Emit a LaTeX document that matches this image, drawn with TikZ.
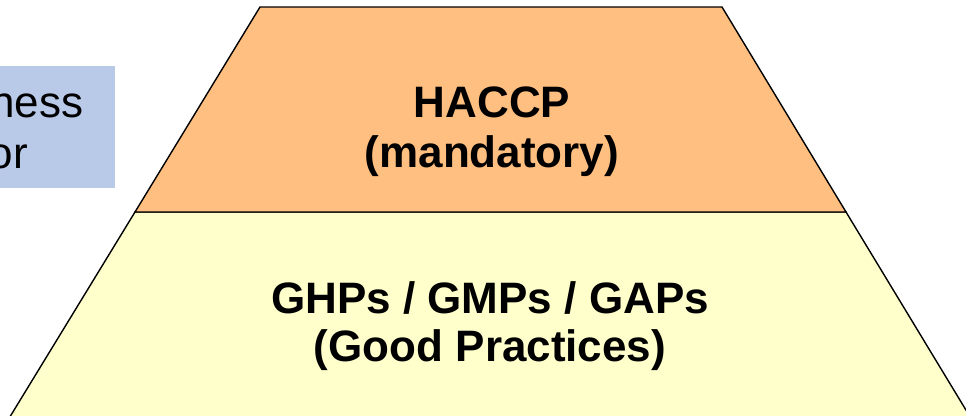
\documentclass[tikz,border=0pt]{standalone}
\usepackage{fontspec}
\setmainfont{Liberation Sans}
\definecolor{toporange}{RGB}{255,191,128}
\definecolor{botyellow}{RGB}{255,255,204}
\definecolor{boxblue}{RGB}{185,201,232}
\tikzset{
  layer/.style={draw=black, line width=1.4pt, line join=miter},
  bigbold/.style={font=\fontsize{44}{50}\selectfont\bfseries, inner sep=0pt, anchor=base},
  boxtext/.style={font=\fontsize{44}{50}\selectfont, inner sep=0pt, anchor=base east},
}
\begin{document}
\begin{tikzpicture}[x=1pt,y=-1pt]
\useasboundingbox (0,0) rectangle (966,415);
% blue side box (cut off at the left edge)
\fill[boxblue] (-10,66) rectangle (115,188);
\node[boxtext] (bluetxt1) at (83.5,117) {ness};
\node[boxtext] (bluetxt2) at (28,168) {or};
% pyramid layers
\filldraw[layer, fill=botyellow] (135,212) -- (846,212) -- (972,420) -- (8,420) -- cycle;
\filldraw[layer, fill=toporange] (260,7) -- (722,7) -- (846,212) -- (135,212) -- cycle;
% texts
\node[bigbold] (top1) at (492,117) {HACCP};
\node[bigbold] (top2) at (492,167) {(mandatory)};
\node[bigbold] (bot1) at (490,313) {GHPs / GMPs / GAPs};
\node[bigbold] (bot2) at (490,361) {(Good Practices)};
\end{tikzpicture}
\end{document}
